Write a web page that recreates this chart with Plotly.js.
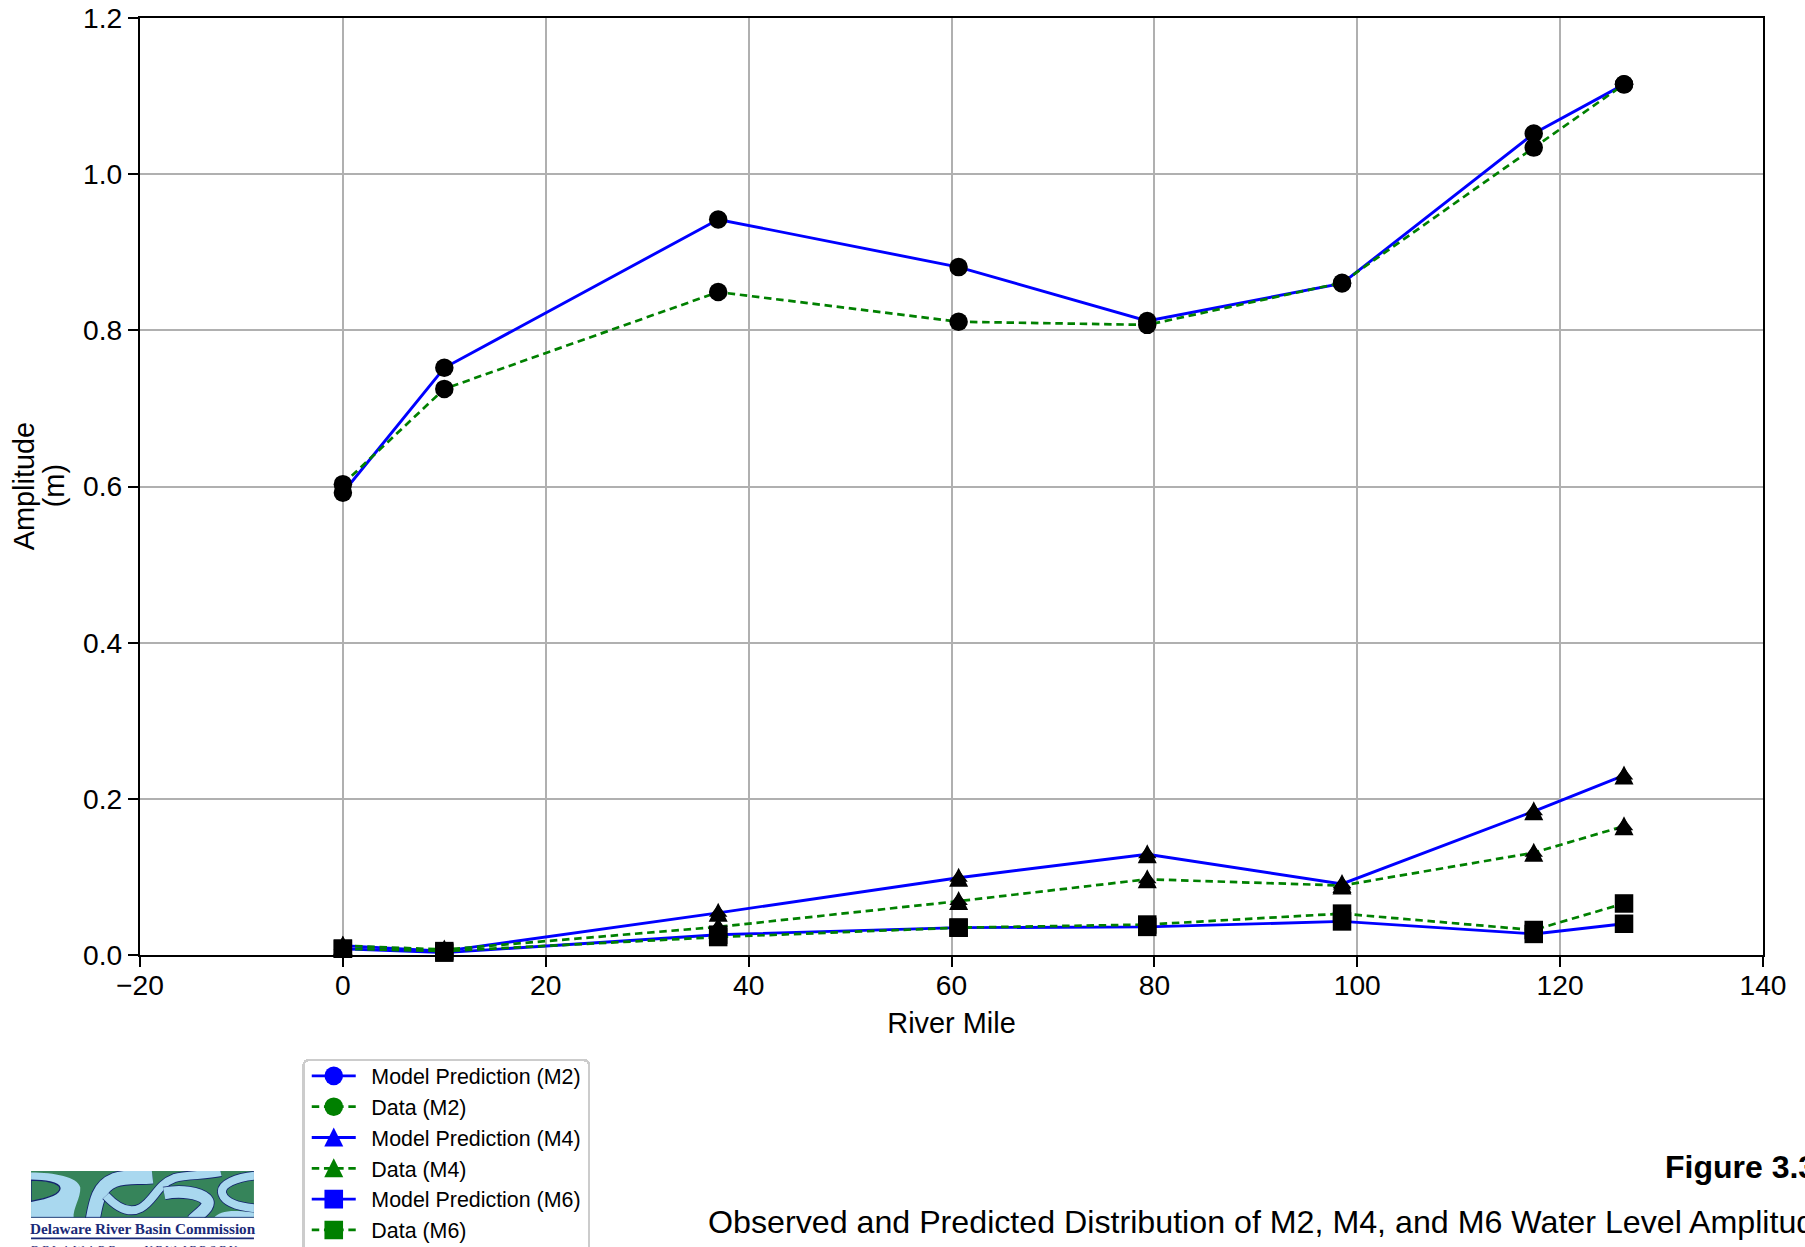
<!DOCTYPE html>
<html><head><meta charset="utf-8">
<script src="https://cdn.plot.ly/plotly-3.0.1.min.js"></script>
<style>html,body{margin:0;padding:0;background:#fff;overflow:hidden;width:1805px;height:1247px}#g{width:1805px;height:1300px}</style>
</head><body><div id="g"></div>
<script>
const riverMile=[0,10,37,60.7,79.3,98.5,117.4,126.3];
const modelM2=[0.592,0.752,0.942,0.881,0.812,0.860,1.052,1.115];
const dataM2=[0.603,0.725,0.849,0.811,0.807,0.861,1.034,1.115];
const modelM4=[0.012,0.005,0.054,0.099,0.129,0.091,0.184,0.230];
const dataM4=[0.012,0.007,0.036,0.069,0.097,0.089,0.131,0.165];
const modelM6=[0.008,0.003,0.026,0.035,0.036,0.043,0.027,0.040];
const dataM6=[0.008,0.005,0.023,0.035,0.039,0.053,0.032,0.066];
const seriesNames=['Model Prediction (M2)','Data (M2)','Model Prediction (M4)','Data (M4)','Model Prediction (M6)','Data (M6)'];
const seriesValues=[modelM2,dataM2,modelM4,dataM4,modelM6,dataM6];
const seriesSymbols=['circle','circle','triangle-up','triangle-up','square','square'];

const W=1805,H=1300,L=140,R=1763.5,T=17.5,B=955;
const FONT='"Liberation Sans", Arial, sans-serif';
const px=x=>(x-L)/(R-L), py=y=>(B-y)/(B-T);
const styleOf=i=>i%2===0?{color:'#0000ff',width:2.9,dash:'solid'}:{color:'#008000',width:2.7,dash:'7.5px,4.7px'};

const traces=[];
seriesNames.forEach((n,i)=>{
  traces.push({x:riverMile,y:seriesValues[i],mode:'lines+markers',type:'scatter',showlegend:false,name:n,cliponaxis:false,
    line:styleOf(i),marker:{symbol:seriesSymbols[i],size:seriesSymbols[i]==='triangle-up'?16:18.5,color:'#000'}});
});
seriesNames.forEach((n,i)=>{
  traces.push({x:[null],y:[null],mode:'lines+markers',type:'scatter',name:n,line:styleOf(i),
    marker:{symbol:seriesSymbols[i],size:16,color:styleOf(i).color}});
});

const shapes=[];
seriesNames.forEach((n,i)=>{
  if(seriesSymbols[i]!=='triangle-up')return;
  riverMile.forEach((m,k)=>shapes.push({type:'path',xref:'x',yref:'y',xsizemode:'pixel',ysizemode:'pixel',
    xanchor:m,yanchor:seriesValues[i][k],path:'M-9.5,-9 L9.5,-9 L0,10 Z',fillcolor:'#000',line:{width:0},layer:'above'}));
});
shapes.push({type:'line',xref:'paper',yref:'paper',x0:px(31),x1:px(254),y0:py(1238.5),y1:py(1238.5),line:{color:'#1b2a78',width:1.6}});

const river=(d,w)=>`<path d="${d}" fill="none" stroke="#14246e" stroke-width="${w+5}"/><path d="${d}" fill="none" stroke="#a9d8ef" stroke-width="${w}"/>`;
const logo=`<svg xmlns="http://www.w3.org/2000/svg" viewBox="0 0 670 142" preserveAspectRatio="none">
<rect width="670" height="142" fill="#36845a"/>
<path d="M0,5 C70,5 140,18 148,50 C150,80 125,115 128,142 L0,142 Z" fill="#a9d8ef"/>
<path d="M0,28 C40,28 85,35 87,52 C88,72 40,85 0,92 Z" fill="#36845a" stroke="#14246e" stroke-width="4"/>
${river('M185,150 C195,90 205,45 250,28 C290,14 320,22 365,17',42)}
${river('M225,75 C265,118 300,128 330,112 C370,90 380,40 430,22 C470,10 520,15 570,4',24)}
${river('M400,68 C450,58 505,66 525,85 C545,105 510,125 485,150',36)}
${river('M680,14 C620,18 565,40 575,70 C585,100 630,110 680,114',24)}
<path d="M550,142 C565,122 600,116 670,126 L670,142 Z" fill="#a9d8ef"/>
<rect x="0" y="139" width="670" height="3" fill="#14246e"/>
</svg>`;

const ann=(text,x,y,size,extra={})=>Object.assign({text,xref:'paper',yref:'paper',x:px(x),y:py(y),xanchor:'left',yanchor:'middle',showarrow:false,
  font:{family:FONT,size,color:'#000'}},extra);
const SERIF={family:'"Liberation Serif", serif',color:'#1b2a78'};

const layout={
  width:W,height:H,margin:{l:L,r:W-R,t:T,b:H-B,pad:0},autosize:false,
  paper_bgcolor:'#fff',plot_bgcolor:'#fff',font:{family:FONT,size:28,color:'#000'},
  xaxis:{range:[-20,140],tickvals:[-20,0,20,40,60,80,100,120,140],ticktext:['−20','0','20','40','60','80','100','120','140'],
    showgrid:true,gridcolor:'#b0b0b0',gridwidth:2.4,zeroline:false,showline:true,linecolor:'#000',linewidth:2.4,mirror:true,
    ticks:'outside',ticklen:10,tickwidth:2.4,tickcolor:'#000',tickfont:{size:28.2},ticklabelstandoff:-6,title:{text:'River Mile',font:{size:28.9},standoff:13},automargin:false},
  yaxis:{range:[0,1.2],tickvals:[0,0.2,0.4,0.6,0.8,1.0,1.2],ticktext:['0.0','0.2','0.4','0.6','0.8','1.0','1.2'],
    showgrid:true,gridcolor:'#b0b0b0',gridwidth:2.4,zeroline:false,showline:true,linecolor:'#000',linewidth:2.4,mirror:true,
    ticks:'outside',ticklen:10,tickwidth:2.4,tickcolor:'#000',tickfont:{size:28.2},automargin:false},
  legend:{x:px(304.3),y:py(1053),xanchor:'left',yanchor:'top',bgcolor:'#fff',bordercolor:'#ccc',borderwidth:2.5,
    font:{size:21.4,family:FONT},itemwidth:54.6,traceorder:'normal'},
  shapes,
  images:[{source:'data:image/svg+xml;utf8,'+encodeURIComponent(logo),xref:'paper',yref:'paper',x:px(31),y:py(1171),sizex:223/(R-L),sizey:47/(B-T),
    xanchor:'left',yanchor:'top',sizing:'stretch',layer:'above'}],
  annotations:[
    ann('<b>Figure 3.3</b>',1663,1167,32),
    ann('Observed and Predicted Distribution of M2, M4, and M6 Water Level Amplitudes',706,1222,32.2),
    ann('Amplitude',24,486,28.9,{textangle:-90,xanchor:'center'}),
    ann('(m)',54,486,28.9,{textangle:-90,xanchor:'center'}),
    ann('<b>Delaware River Basin Commission</b>',28,1229,15.2,{font:Object.assign({size:15.2},SERIF)}),
    ann('D\u00a0E\u00a0L\u00a0A\u00a0W\u00a0A\u00a0R\u00a0E\u00a0\u00a0\u00a0\u00a0\u00a0\u00a0\u00a0\u00a0\u00a0\u00a0N\u00a0E\u00a0W\u00a0\u00a0J\u00a0E\u00a0R\u00a0S\u00a0E\u00a0Y',29,1250,11.5,{font:Object.assign({size:11.5},SERIF)})
  ]
};
Plotly.newPlot('g',traces,layout,{displayModeBar:false,responsive:false}).then(gd=>{
  const glyph={circle:'M9.3,0A9.3,9.3 0 1,1 0,-9.3A9.3,9.3 0 0,1 9.3,0Z','triangle-up':'M-9.5,9L9.5,9L0,-10Z',square:'M9.3,9.3H-9.3V-9.3H9.3Z'};
  gd.querySelectorAll('.legend .traces').forEach((row,i)=>{
    row.querySelectorAll('.legendlines path').forEach(p=>p.setAttribute('d','M5,0h44'));
    row.querySelectorAll('.legendpoints path').forEach(p=>{p.setAttribute('d',glyph[seriesSymbols[i]]);p.setAttribute('transform','translate(27,0)');});
  });
  const bg=gd.querySelector('.legend rect.bg');
  if(bg){const h=parseFloat(bg.getAttribute('height')),y=parseFloat(bg.getAttribute('y')||0),x=parseFloat(bg.getAttribute('x')||0),w=parseFloat(bg.getAttribute('width'));
    bg.setAttribute('y',y+6);bg.setAttribute('height',h-6);bg.setAttribute('x',x-2);bg.setAttribute('width',w+4);bg.setAttribute('rx',5);bg.setAttribute('ry',5);}
});
</script></body></html>
